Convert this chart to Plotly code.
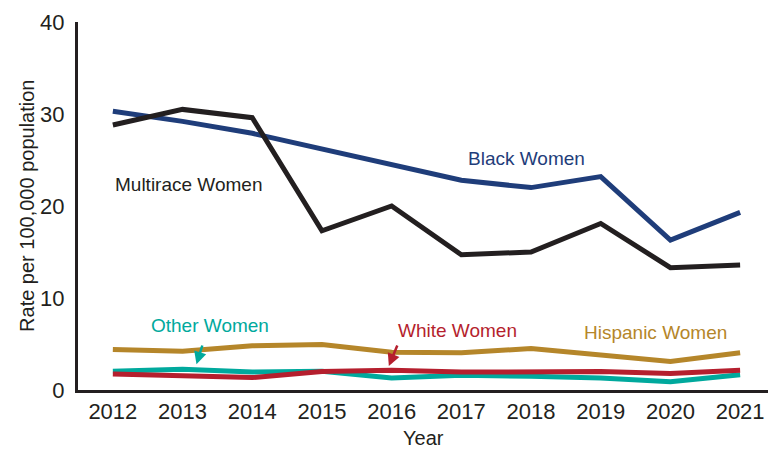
import plotly.graph_objects as go

years = [2012, 2013, 2014, 2015, 2016, 2017, 2018, 2019, 2020, 2021]
black_women = [30.3, 29.2, 27.9, 26.2, 24.6, 22.8, 22.0, 23.2, 16.3, 19.3]
multirace_women = [28.8, 30.5, 29.6, 17.3, 20.0, 14.7, 15.0, 18.1, 13.3, 13.6]
hispanic_women = [4.4, 4.2, 4.8, 4.95, 4.1, 4.05, 4.5, 3.8, 3.1, 4.05]
other_women = [2.05, 2.25, 1.95, 2.05, 1.3, 1.6, 1.5, 1.3, 0.9, 1.65]
white_women = [1.75, 1.6, 1.35, 2.0, 2.15, 1.95, 2.0, 2.0, 1.8, 2.15]
y_ticks = [0, 10, 20, 30, 40]

FONT = "Liberation Sans, Arial, sans-serif"

series = [
    ("Hispanic Women", hispanic_women, "#b5862a"),
    ("Other Women", other_women, "#00a99d"),
    ("White Women", white_women, "#b51f2e"),
    ("Black Women", black_women, "#1f3d7a"),
    ("Multirace Women", multirace_women, "#231f20"),
]

fig = go.Figure()
for name, vals, color in series:
    fig.add_trace(go.Scatter(x=years, y=vals, mode="lines", name=name,
                             line=dict(color=color, width=5), showlegend=False))

labels = [
    ("Black Women", 2017.94, 25.2, "#1f3d7a"),
    ("Multirace Women", 2013.08, 22.3, "#231f20"),
    ("Other Women", 2013.39, 6.96, "#00a99d"),
    ("White Women", 2016.95, 6.5, "#b51f2e"),
    ("Hispanic Women", 2019.78, 6.2, "#b5862a"),
]
for text, x, y, color in labels:
    fig.add_annotation(x=x, y=y, text=text, showarrow=False,
                       xanchor="center", yanchor="middle",
                       font=dict(family=FONT, size=19, color=color))

# arrows
fig.add_annotation(x=2013.2, y=2.8, ax=2013.29, ay=5.0, xref="x", yref="y",
                   axref="x", ayref="y", text="", showarrow=True,
                   arrowhead=2, arrowsize=1, arrowwidth=2.5, arrowcolor="#00a99d")
fig.add_annotation(x=2015.96, y=2.6, ax=2016.09, ay=5.0, xref="x", yref="y",
                   axref="x", ayref="y", text="", showarrow=True,
                   arrowhead=2, arrowsize=1, arrowwidth=2.5, arrowcolor="#b51f2e")

# axis titles
fig.add_annotation(x=0.5, y=-0.13, xref="paper", yref="paper", text="Year",
                   xanchor="center", yanchor="middle",
                   showarrow=False, font=dict(family=FONT, size=20, color="#231f20"))
fig.add_annotation(x=-0.074, y=0.5, xref="paper", yref="paper",
                   text="Rate per 100,000 population", textangle=-90,
                   xanchor="center", yanchor="middle",
                   showarrow=False, font=dict(family=FONT, size=20, color="#231f20"))

fig.update_layout(
    width=776, height=450,
    margin=dict(l=78, r=8, t=22, b=60, autoexpand=False),
    plot_bgcolor="white", paper_bgcolor="white",
    font=dict(family=FONT, size=20, color="#231f20"),
    xaxis=dict(range=[2011.5, 2021.4], tickvals=years, showgrid=False,
               zeroline=False, showline=True, linecolor="#231f20", linewidth=3,
               ticks="", tickfont=dict(size=22), automargin=False),
    yaxis=dict(range=[0, 40], tickvals=y_ticks, showgrid=False, zeroline=False,
               showline=True, linecolor="#231f20", linewidth=3, ticks="",
               tickfont=dict(size=22), automargin=False, ticklabelstandoff=6),
)

fig.write_html("out.html",
               config={"displayModeBar": False},
               post_script="document.body.style.margin='0px';document.body.style.overflow='hidden';")
